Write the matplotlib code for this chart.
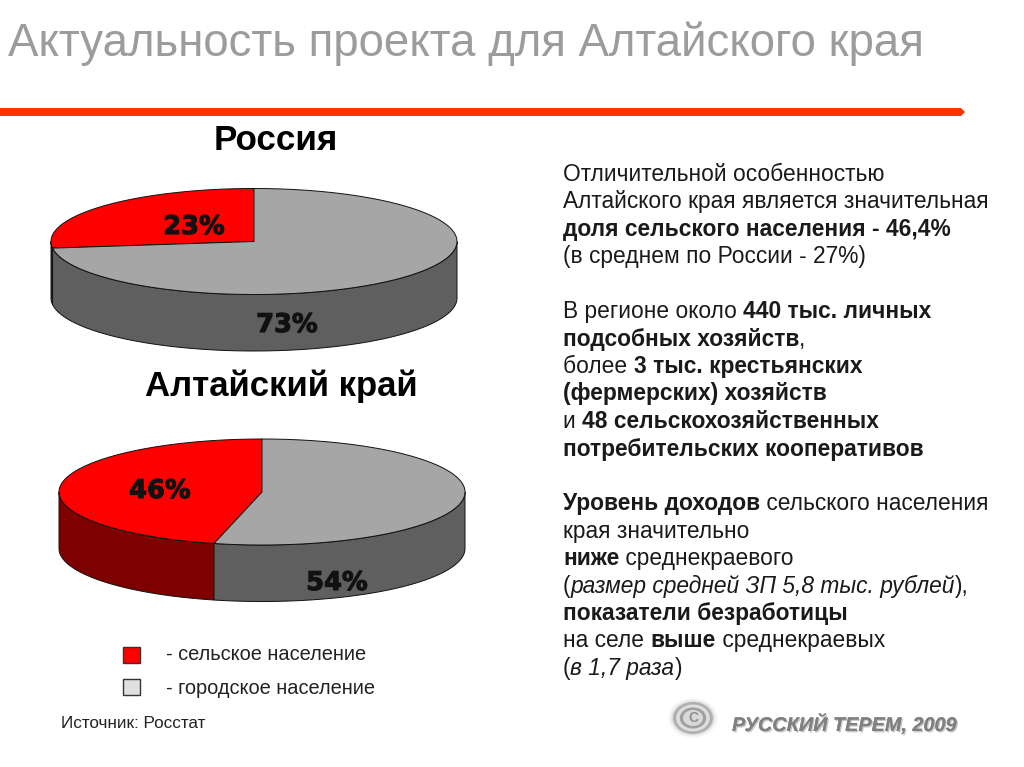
import matplotlib
matplotlib.use('Agg')
import matplotlib.pyplot as plt
import matplotlib.patheffects as pe
from matplotlib.patches import Ellipse, Polygon, Rectangle
import numpy as np

plt.rcParams['font.family'] = ['Liberation Sans', 'DejaVu Sans']

# share of rural population as drawn on the pies, and the labels printed on them
rural_drawn = [27, 46.2]
pie_labels = [('23%', '73%'), ('46%', '54%')]
pie_titles = ['Россия', 'Алтайский край']
legend_labels = ['- сельское население', '- городское население']
legend_colors = ['#ff0000', '#e0e0e0']

# right column, each line is a list of (text, style) runs
N, B, I = 'normal', 'bold', 'italic'
text_lines = [
    (174, [('Отличительной особенностью', N)]),
    (201, [('Алтайского края является значительная', N)]),
    (229, [('доля сельского населения - 46,4%', B)]),
    (256, [('(в среднем по России - 27%)', N)]),
    (311, [('В регионе около ', N), ('440 тыс. личных', B)]),
    (339, [('подсобных хозяйств', B), (',', N)]),
    (366, [('более ', N), ('3 тыс. крестьянских', B)]),
    (393, [('(фермерских) хозяйств', B)]),
    (421, [('и ', N), ('48 сельскохозяйственных', B)]),
    (449, [('потребительских кооперативов', B)]),
    (503, [('Уровень доходов', B), (' сельского населения', N)]),
    (531, [('края значительно', N)]),
    (558, [('ниже', B), (' среднекраевого', N)]),
    (586, [('(', N), ('размер средней ЗП 5,8 тыс. рублей', I), ('),', N)]),
    (613, [('показатели безработицы', B)]),
    (640, [('на селе ', N), ('выше', B), (' среднекраевых', N)]),
    (668, [('(', N), ('в 1,7 раза', I), (')', N)]),
]
BODY_SIZE = 16.4

fig = plt.figure(figsize=(10.24, 7.67), dpi=100)
ax = fig.add_axes([0, 0, 1, 1])
ax.set_xlim(0, 1024)
ax.set_ylim(767, 0)
ax.axis('off')


def rim(cx, cy, rx, ry, a, b, n=120):
    t = np.radians(np.linspace(a, b, n))
    return np.column_stack([cx + rx * np.cos(t), cy - ry * np.sin(t)])


def draw_side(cx, cy, rx, ry, depth, a, b, color):
    # only the front half of the cylinder is visible
    a, b = max(a, 180), min(b, 360)
    if b <= a:
        return
    top = rim(cx, cy, rx, ry, a, b)
    bottom = top[::-1] + [0, depth]
    ax.add_patch(Polygon(np.vstack([top, bottom]), closed=True, fc=color,
                         ec='#111111', lw=0.7, zorder=2))


def draw_pie(cx, cy, rural, labels, pos_rural, pos_urban):
    rx, ry, depth = 203, 53, 56.5
    split = 90 + rural * 3.6
    draw_side(cx, cy, rx, ry, depth, 90, split, '#7f0000')
    draw_side(cx, cy, rx, ry, depth, split, 450, '#5f5f5f')
    for a, b, col in [(90, split, '#ff0000'), (split, 450, '#a6a6a6')]:
        pts = np.vstack([[cx, cy], rim(cx, cy, rx, ry, a, b)])
        ax.add_patch(Polygon(pts, closed=True, fc=col, ec='#111111', lw=0.7, zorder=3))
    for lab, pos in zip(labels, (pos_rural, pos_urban)):
        ax.text(pos[0], pos[1], lab, ha='center', va='center', fontsize=18.5,
                family='DejaVu Sans', fontweight='bold', color='#111111', zorder=4,
                path_effects=[pe.withStroke(linewidth=0.8, foreground='#111111')])


# header
ax.text(8, 56, 'Актуальность проекта для Алтайского края', fontsize=32.9, color='#9c9c9c',
        va='baseline', ha='left')
bar_x = [0, 961, 965, 961, 0]
bar_y = [108, 108, 112, 116, 116]
ax.add_patch(Polygon(np.column_stack([bar_x, bar_y]), closed=True, fc='#ff3300', ec='none'))

# pies
ax.text(276, 150, pie_titles[0], fontsize=25.2, fontweight='bold', ha='center', va='baseline', color='#000000')
ax.text(281, 396, pie_titles[1], fontsize=25, fontweight='bold', ha='center', va='baseline', color='#000000')
draw_pie(254, 241.5, rural_drawn[0], pie_labels[0], (194, 227), (287, 325))
draw_pie(262, 492, rural_drawn[1], pie_labels[1], (160, 491), (337, 583))

# legend
for y, ty, col, lab in zip([647, 679], [654, 688], legend_colors, legend_labels):
    ax.add_patch(Rectangle((123, y), 17, 16, fc=col, ec='#333333', lw=1))
    ax.text(166, ty, lab, fontsize=14.4, va='center', ha='left', color='#222222')
ax.text(61, 724, 'Источник: Росстат', fontsize=12.3, va='center', ha='left', color='#222222')

# right hand text, runs placed one after the other
renderer = fig.canvas.get_renderer()


def run_width(s, style):
    kw = dict(fontsize=BODY_SIZE, fontweight='bold' if style == B else 'normal',
              fontstyle='italic' if style == I else 'normal')
    t1 = ax.text(0, 0, '|' + s + '|', **kw)
    t2 = ax.text(0, 0, '||', **kw)
    w = t1.get_window_extent(renderer).width - t2.get_window_extent(renderer).width
    t1.remove()
    t2.remove()
    return w


for y, runs in text_lines:
    x = 563
    for s, style in runs:
        ax.text(x, y + 7, s, fontsize=BODY_SIZE, va='baseline', ha='left', color='#1a1a1a',
                fontweight='bold' if style == B else 'normal',
                fontstyle='italic' if style == I else 'normal')
        x += run_width(s, style)

# logo and signature
for r, g in [(1.22, '#f4f4f4'), (1.1, '#e2e2e2'), (1.0, '#b0b0b0'), (0.84, '#dedede'), (0.66, '#a0a0a0'), (0.5, '#d8d8d8')]:
    ax.add_patch(Ellipse((693, 718), 40 * r, 32 * r, fc=g, ec='none'))
ax.text(693, 718, 'C', fontsize=10, fontweight='bold', color='#909090', ha='center', va='center')
ax.text(732, 731, 'РУССКИЙ ТЕРЕМ, 2009', fontsize=14.3, fontweight='bold', fontstyle='italic',
        color='#808080', va='baseline', ha='left',
        path_effects=[pe.withSimplePatchShadow(offset=(1, -1), shadow_rgbFace='#bbbbbb', alpha=0.8), pe.Normal()])

fig.savefig('out.png', dpi=100)
